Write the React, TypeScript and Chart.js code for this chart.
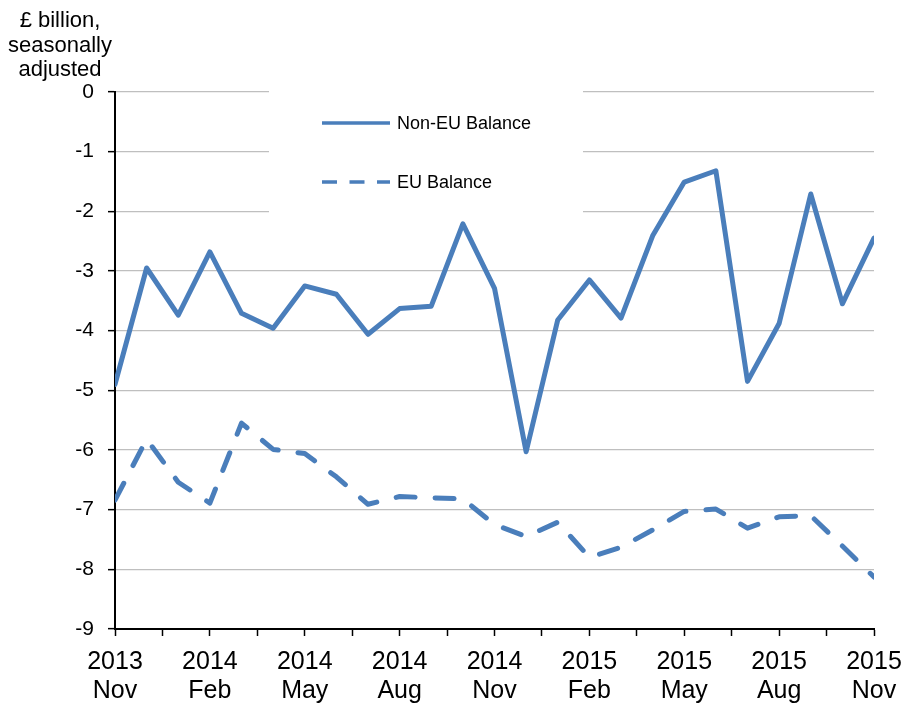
import React, { useEffect, useRef } from "react";
import { Chart, registerables } from "chart.js";

Chart.register(...registerables);

const months = [
  "2013 Nov", "2013 Dec",
  "2014 Jan", "2014 Feb", "2014 Mar", "2014 Apr", "2014 May", "2014 Jun",
  "2014 Jul", "2014 Aug", "2014 Sep", "2014 Oct", "2014 Nov", "2014 Dec",
  "2015 Jan", "2015 Feb", "2015 Mar", "2015 Apr", "2015 May", "2015 Jun",
  "2015 Jul", "2015 Aug", "2015 Sep", "2015 Oct", "2015 Nov",
];

const nonEUBalance = [
  -4.9, -2.95, -3.74, -2.68, -3.71, -3.96, -3.25, -3.39, -4.06, -3.63,
  -3.59, -2.21, -3.29, -6.03, -3.82, -3.15, -3.79, -2.41, -1.51, -1.32,
  -4.85, -3.88, -1.71, -3.55, -2.45,
];

const euBalance = [
  -6.84, -5.82, -6.54, -6.89, -5.55, -5.99, -6.06, -6.45, -6.91, -6.78,
  -6.8, -6.82, -7.25, -7.45, -7.21, -7.8, -7.63, -7.34, -7.03, -6.99,
  -7.31, -7.12, -7.1, -7.61, -8.13,
];

const seriesNames = ["Non-EU Balance", "EU Balance"];
const titleLines = ["£ billion,", "seasonally", "adjusted"];
const yMin = -9;
const yMax = 0;

const FONT = "'Liberation Sans', Arial, Helvetica, sans-serif";
const BLUE = "#4a7ebb";

const overlayPlugin = {
  id: "overlay",
  beforeDatasetsDraw(chart: any) {
    const ctx = chart.ctx;
    ctx.save();
    ctx.fillStyle = "#ffffff";
    ctx.fillRect(269, 84, 314, 134);
    ctx.restore();
  },
  afterDraw(chart: any) {
    const ctx = chart.ctx;
    ctx.save();
    const rows = [123, 182];
    chart.data.datasets.forEach((ds: any, i: number) => {
      const y = rows[i];
      ctx.beginPath();
      ctx.strokeStyle = ds.borderColor;
      ctx.lineWidth = 3.4;
      ctx.lineCap = "butt";
      ctx.setLineDash(ds.borderDash && ds.borderDash.length ? [15, 12.5] : []);
      ctx.moveTo(322, y);
      ctx.lineTo(390, y);
      ctx.stroke();
      ctx.setLineDash([]);
      ctx.fillStyle = "#000";
      ctx.font = `18px ${FONT}`;
      ctx.textAlign = "left";
      ctx.textBaseline = "middle";
      ctx.fillText(ds.label, 397, y + 1);
    });
    ctx.fillStyle = "#000";
    ctx.font = `22px ${FONT}`;
    ctx.textAlign = "center";
    ctx.textBaseline = "middle";
    titleLines.forEach((t, i) => {
      ctx.fillText(t, 60, 21 + i * 24.5);
    });
    ctx.restore();
  },
};

export default function App() {
  const ref = useRef<HTMLCanvasElement | null>(null);

  useEffect(() => {
    document.body.style.margin = "0";
    if (!ref.current) return;
    const chart = new Chart(ref.current, {
      type: "line",
      data: {
        datasets: [
          {
            label: seriesNames[0],
            data: nonEUBalance.map((v, i) => ({ x: i, y: v })),
            borderColor: BLUE,
            backgroundColor: BLUE,
            borderWidth: 5,
            pointRadius: 0,
            tension: 0,
            borderJoinStyle: "round",
            borderCapStyle: "round",
          },
          {
            label: seriesNames[1],
            data: euBalance.map((v, i) => ({ x: i, y: v })),
            borderColor: BLUE,
            backgroundColor: BLUE,
            borderWidth: 5,
            borderDash: [19, 20],
            pointRadius: 0,
            tension: 0,
            borderJoinStyle: "round",
            borderCapStyle: "round",
          },
        ],
      },
      options: {
        responsive: false,
        animation: false,
        devicePixelRatio: 1,
        layout: { padding: { left: 0, top: 92, right: 29, bottom: 0 } },
        plugins: {
          legend: { display: false },
          tooltip: { enabled: false },
          title: { display: false },
        },
        scales: {
          x: {
            type: "linear",
            min: 0,
            max: months.length - 1,
            ticks: {
              stepSize: 1.5,
              maxTicksLimit: 100,
              autoSkip: false,
              maxRotation: 0,
              minRotation: 0,
              padding: 12,
              color: "#000",
              font: { family: FONT, size: 25, lineHeight: 1.15 },
              callback: (v: any) => {
                const n = Number(v);
                if (Number.isInteger(n) && n % 3 === 0 && months[n]) {
                  return months[n].split(" ");
                }
                return "";
              },
            },
            grid: {
              drawOnChartArea: false,
              drawTicks: true,
              tickLength: 7,
              tickColor: "#000",
              tickWidth: 1.5,
            },
            border: { color: "#000", width: 2 },
            afterFit: (s: any) => {
              s.height = 78;
              s.paddingLeft = 0;
              s.paddingRight = 0;
            },
          },
          y: {
            min: yMin,
            max: yMax,
            ticks: {
              stepSize: 1,
              padding: 14,
              color: "#000",
              font: { family: FONT, size: 21 },
            },
            grid: {
              color: "#bfbfbf",
              lineWidth: 1.3,
              tickLength: 7,
              tickColor: "#000",
              tickWidth: 1.5,
            },
            border: { color: "#000", width: 2 },
            afterFit: (s: any) => {
              s.width = 115;
            },
          },
        },
      },
      plugins: [overlayPlugin],
    } as any);
    return () => chart.destroy();
  }, []);

  return (
    <div style={{ width: 903, height: 707, background: "#fff" }}>
      <canvas ref={ref} width={903} height={707} style={{ display: "block" }} />
    </div>
  );
}
